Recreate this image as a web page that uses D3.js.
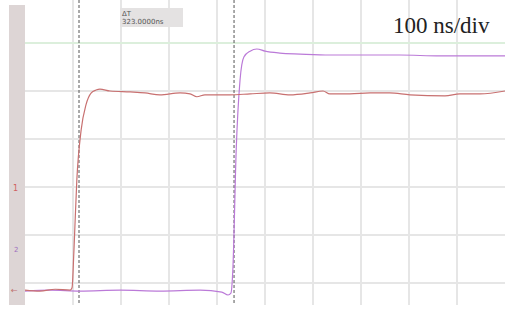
<!DOCTYPE html>
<html>
<head>
<meta charset="utf-8">
<script src="https://cdn.jsdelivr.net/npm/d3@7"></script>
<style>
  body { margin: 0; background: #fff; }
  svg { display: block; }
</style>
</head>
<body>
<svg id="chart" width="505" height="318"></svg>
<script>
// scope capture, 100 ns/div, values in divisions
var redT = [0, 31, 63, 94, 98, 102, 108, 117, 127, 138, 148, 156, 177, 219, 250, 281, 323, 344, 358, 375,
    427, 469, 510, 552, 594, 621, 635, 677, 719, 760, 802, 875, 906, 948, 1000];
var redV = [-0.15, -0.17, -0.13, -0.15, -0.10, 0.69, 2.15, 3.19, 3.71, 3.96, 4.02, 4.04, 4.0, 3.98, 3.96, 3.92, 3.96, 3.94, 3.88, 3.92,
    3.92, 3.94, 3.96, 3.92, 3.96, 4.0, 3.94, 3.94, 3.96, 3.96, 3.92, 3.90, 3.94, 3.94, 4.0];

var purpleT = [0, 52, 115, 198, 281, 365, 410, 423, 429, 433, 440, 448, 456, 469, 483, 500, 531, 573, 635, 781, 865, 1000];
var purpleV = [-0.17, -0.15, -0.17, -0.15, -0.17, -0.15, -0.19, -0.25, -0.21, 0.27, 2.77, 4.23, 4.71, 4.83, 4.875, 4.83, 4.79, 4.77, 4.75, 4.75, 4.73, 4.73];

var cursors = [112.5, 435.5];
var deltaLabel = ['\u0394T', '323.0000ns'];
var scaleLabel = '100 ns/div';

var svg = d3.select('#chart');

// 10 divisions across, 48 px each
var x = d3.scaleLinear().domain([0, 1000]).range([25, 505]);
var y = d3.scaleLinear().domain([0, 1]).range([283, 235]);

// left channel strip
svg.append('rect')
    .attr('x', 9).attr('y', 5)
    .attr('width', 16).attr('height', 300)
    .attr('fill', '#ddd5d5');

// grid
var gx = d3.range(1, 10).map(i => i * 100);
var gy = d3.range(0, 6);
svg.append('g').selectAll('line').data(gx).enter().append('line')
    .attr('x1', d => x(d)).attr('x2', d => x(d))
    .attr('y1', 0).attr('y2', 305)
    .attr('stroke', '#e6e6e6').attr('stroke-width', 2);
svg.append('g').selectAll('line').data(gy).enter().append('line')
    .attr('x1', x(0)).attr('x2', x(1000))
    .attr('y1', d => y(d)).attr('y2', d => y(d))
    .attr('stroke', d => d === 5 ? '#dcefdc' : '#e6e6e6')
    .attr('stroke-width', 2);

// cursors
svg.append('g').selectAll('line').data(cursors).enter().append('line')
    .attr('x1', d => x(d)).attr('x2', d => x(d))
    .attr('y1', 0).attr('y2', 305)
    .attr('stroke', '#555').attr('stroke-width', 1)
    .attr('stroke-dasharray', '3,2');

// delta box
var box = svg.append('g').attr('transform', 'translate(' + (x(cursors[0]) + 41) + ',8)');
box.append('rect').attr('width', 63).attr('height', 19).attr('fill', '#e4e2e2');
box.selectAll('text').data(deltaLabel).enter().append('text')
    .attr('x', 2).attr('y', (d, i) => 8 + i * 8)
    .attr('font-family', 'DejaVu Sans').attr('font-size', 7)
    .attr('fill', '#555')
    .text(d => d);

// traces
var line = d3.line()
    .x(d => x(d[0])).y(d => y(d[1]))
    .curve(d3.curveMonotoneX);

svg.append('path')
    .datum(purpleT.map((t, i) => [t, purpleV[i]]))
    .attr('d', line)
    .attr('fill', 'none').attr('stroke', '#bb7ad8').attr('stroke-width', 1.2);

svg.append('path')
    .datum(redT.map((t, i) => [t, redV[i]]))
    .attr('d', line)
    .attr('fill', 'none').attr('stroke', '#c87070').attr('stroke-width', 1.2);

// channel markers
svg.append('text').attr('x', 13).attr('y', y(2) + 4)
    .attr('font-family', 'DejaVu Sans').attr('font-size', 8).attr('fill', '#d06060').text('1');
svg.append('text').attr('x', 14).attr('y', y(0.7) + 3)
    .attr('font-family', 'DejaVu Sans').attr('font-size', 7).attr('fill', '#a070c0').text('2');
svg.append('text').attr('x', 11).attr('y', y(-0.15) + 3)
    .attr('font-family', 'DejaVu Sans').attr('font-size', 8).attr('fill', '#c07070').text('\u2190');

// timebase label
svg.append('text')
    .attr('x', 393).attr('y', 33)
    .attr('font-family', 'Liberation Serif').attr('font-size', 23)
    .attr('fill', '#222')
    .text(scaleLabel);
</script>
</body>
</html>
